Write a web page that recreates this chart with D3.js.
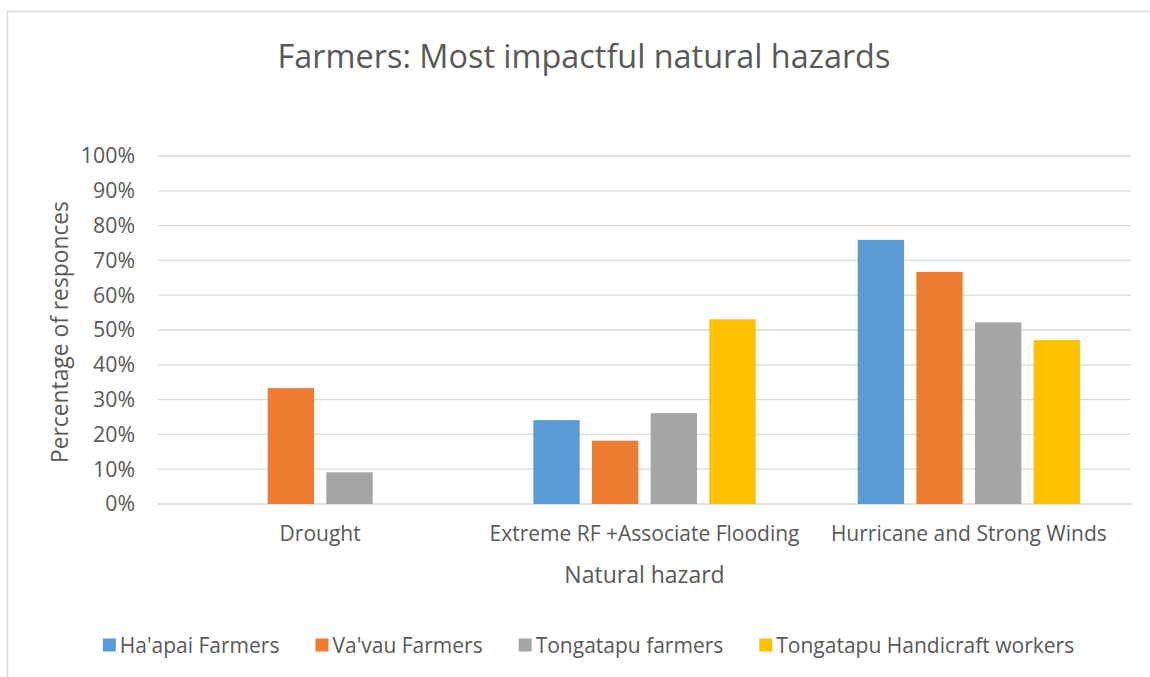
<!DOCTYPE html>
<meta charset="utf-8">
<head>
  <title>Farmers: Most impactful natural hazards</title>
</head>
<style>
body { margin: 0; background: #fff; }
text { font-family: "Open Sans", Lato, sans-serif; fill: #595959; }
.grid line { stroke: #d9d9d9; stroke-width: 1.3px; }
</style>
<body>
<script src="https://d3js.org/d3.v7.min.js"></script>
<script>

// data
var categories = ["Drought", "Extreme RF +Associate Flooding", "Hurricane and Strong Winds"];
var seriesNames = ["Ha'apai Farmers", "Va'vau Farmers", "Tongatapu farmers", "Tongatapu Handicraft workers"];
var hapai = [0, 24.1, 75.9];
var vavau = [33.3, 18.2, 66.7];
var tongatapu = [9.1, 26.1, 52.2];
var handicraft = [0, 53.1, 47.1];
var yTicks = [0, 10, 20, 30, 40, 50, 60, 70, 80, 90, 100];
var colors = ["#5b9bd5", "#ed7d31", "#a5a5a5", "#ffc000"];

var seriesValues = [hapai, vavau, tongatapu, handicraft];

var W = 1150, H = 677;
var margin = {top: 156, right: 19, bottom: 173, left: 158},
    width = W - margin.left - margin.right,
    height = H - margin.top - margin.bottom;

var svg = d3.select("body").append("svg")
    .attr("width", W)
    .attr("height", H);

// chart area border (only top and left visible in the crop)
svg.append("rect")
    .attr("x", 7.5).attr("y", 11.5)
    .attr("width", 1200).attr("height", 700)
    .attr("fill", "none")
    .attr("stroke", "#d9d9d9")
    .attr("stroke-width", 1.5);

// title
svg.append("text")
    .attr("x", 584)
    .attr("y", 68)
    .attr("text-anchor", "middle")
    .style("font-size", "32.4px")
    .text("Farmers: Most impactful natural hazards");

var g = svg.append("g")
    .attr("transform", "translate(" + margin.left + "," + margin.top + ")");

// scales
var x0 = d3.scaleBand().domain(categories).range([0, width]);
var x1 = d3.scaleBand().domain(d3.range(seriesNames.length))
    .range([0, x0.bandwidth()])
    .paddingInner(0.21)
    .paddingOuter(0.87);
var y = d3.scaleLinear().domain([0, 100]).range([height, 0]);

// gridlines
g.append("g")
    .attr("class", "grid")
  .selectAll("line")
  .data(yTicks)
  .enter().append("line")
    .attr("x1", 0)
    .attr("x2", width)
    .attr("y1", function(d) { return y(d); })
    .attr("y2", function(d) { return y(d); });

// y axis labels
var yAxis = g.append("g")
    .call(d3.axisLeft(y).tickValues(yTicks).tickSize(0).tickPadding(23)
      .tickFormat(function(d) { return d + "%"; }));
yAxis.select(".domain").remove();
yAxis.selectAll("text")
    .style("font-size", "21.3px")
    .style("font-family", "'Open Sans', sans-serif")
    .attr("fill", "#595959");

// bars
seriesValues.forEach(function(vals, si) {
  g.append("g")
    .selectAll("rect")
    .data(vals)
    .enter().append("rect")
      .attr("x", function(d, i) { return x0(categories[i]) + x1(si); })
      .attr("y", function(d) { return y(d); })
      .attr("width", x1.bandwidth())
      .attr("height", function(d) { return height - y(d); })
      .attr("fill", colors[si]);
});

// x axis labels
var xAxis = g.append("g")
    .attr("transform", "translate(0," + height + ")")
    .call(d3.axisBottom(x0).tickSize(0).tickPadding(22));
xAxis.select(".domain").remove();
xAxis.selectAll("text")
    .style("font-size", "21px")
    .style("font-family", "'Open Sans', sans-serif")
    .attr("fill", "#595959");

// axis titles
svg.append("text")
    .attr("x", margin.left + width / 2)
    .attr("y", 583)
    .attr("text-anchor", "middle")
    .style("font-size", "23px")
    .text("Natural hazard");

svg.append("text")
    .attr("transform", "translate(68,332) rotate(-90)")
    .attr("text-anchor", "middle")
    .style("font-size", "22.8px")
    .text("Percentage of responces");

// legend
var legend = svg.append("g");
var lx = 0;
seriesNames.forEach(function(name, i) {
  var item = legend.append("g");
  item.append("rect")
      .attr("x", 0).attr("y", -6.5)
      .attr("width", 13).attr("height", 13)
      .attr("fill", colors[i]);
  var t = item.append("text")
      .attr("x", 17)
      .attr("y", 7.5)
      .style("font-size", "21px")
      .text(name);
  item.attr("transform", "translate(" + lx + ",0)");
  lx += 17 + t.node().getComputedTextLength() + 36;
});
var legendWidth = lx - 36;
legend.attr("transform", "translate(" + (588.5 - legendWidth / 2) + ",645)");

</script>
</body>
